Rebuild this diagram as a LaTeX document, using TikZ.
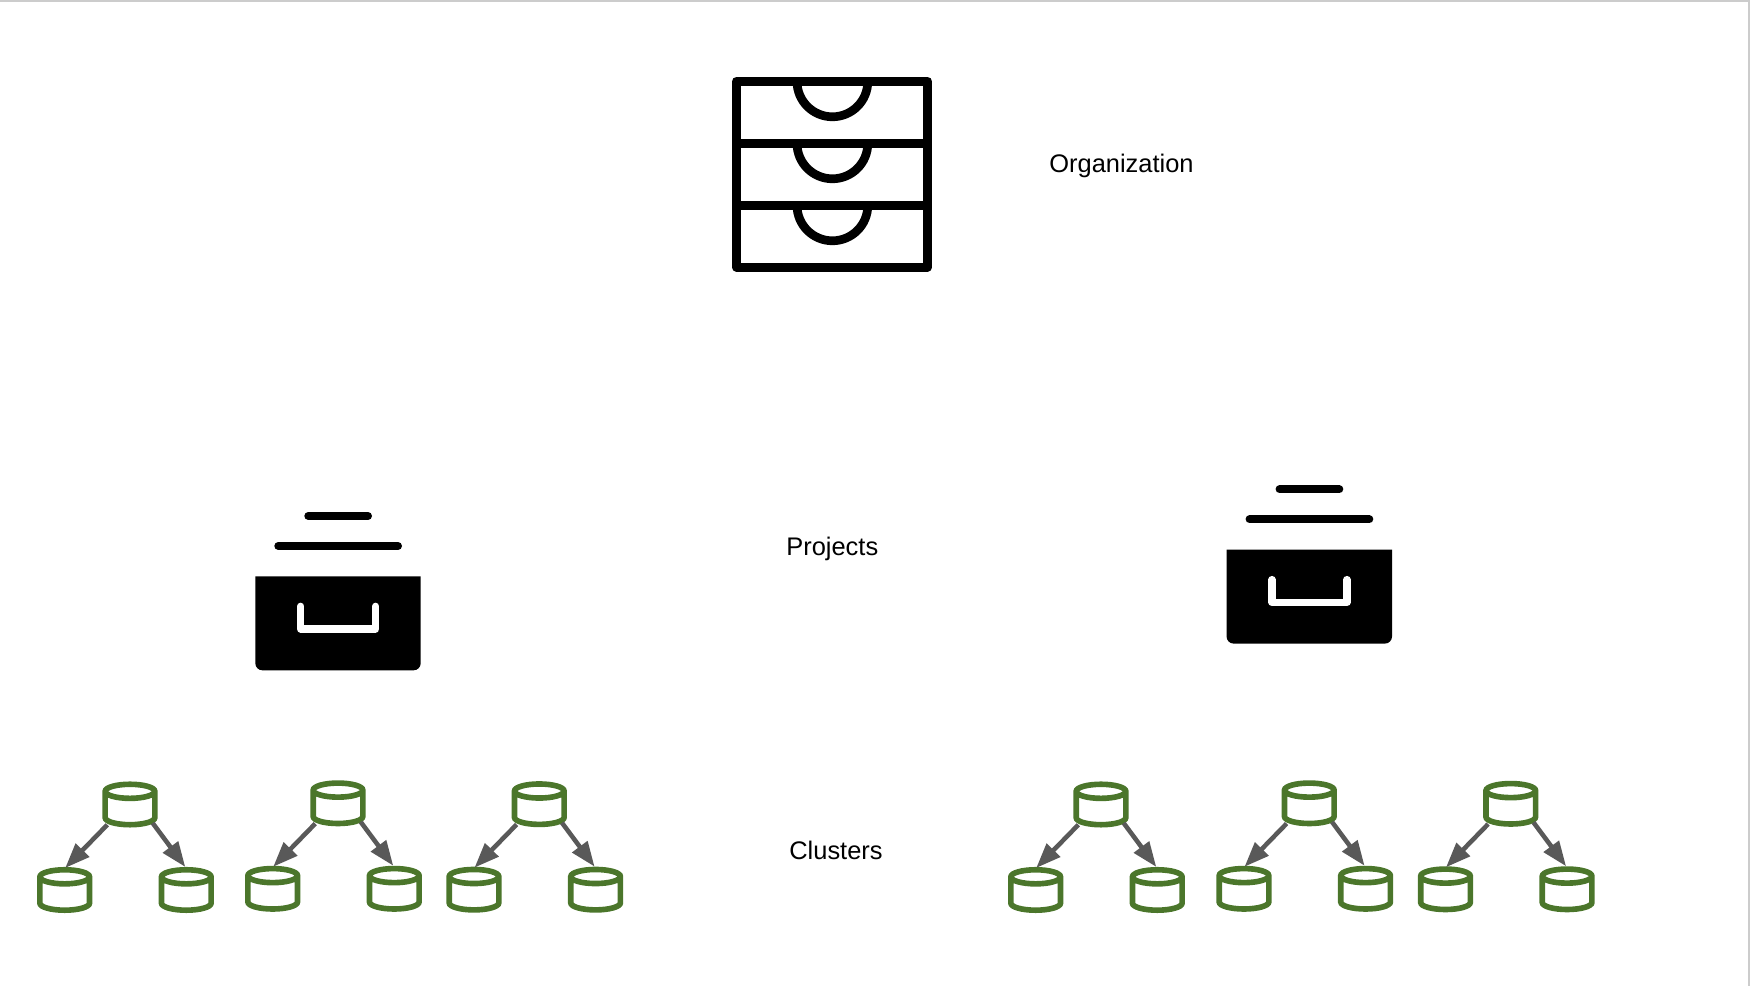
\documentclass[tikz,border=0pt]{standalone}
\usepackage{fontspec}
\setmainfont{Liberation Sans}
\usetikzlibrary{arrows.meta,shapes.geometric}
\definecolor{clustergreen}{HTML}{4B762B}
\definecolor{linkgray}{HTML}{595959}
\definecolor{framegray}{HTML}{CCCCCC}
\tikzset{
	iconline/.style={line width=2.47pt, line join=round},
	barline/.style={line width=2.28pt, line cap=round},
	handleline/.style={white, line width=2.07pt, line cap=round, line join=round},
	clusterdb/.style={cylinder, shape border rotate=90, aspect=2, draw=clustergreen, line width=1.6pt,
		minimum width=0.496cm, minimum height=0.404cm, inner sep=1pt, outer sep=0pt, anchor=shape center},
	linkarrow/.style={->, linkgray, line width=1.3pt},
	levellabel/.style={anchor=base, inner sep=0pt, font=\fontsize{7.23pt}{9pt}\selectfont}
}
\begin{document}
\begin{tikzpicture}[x=0.01cm, y=-0.01cm, >={Triangle[length=7.1pt, width=5.2pt]}]
	\useasboundingbox (0,0) rectangle (1750,986);
	% Frame edges of the page
	\fill[framegray] (0,0) rectangle (1750,2);
	\fill[framegray] (1748,0) rectangle (1750,986);
	
	% Cabinet with three drawers
	\draw[iconline] (736.4,81.4) rectangle (927.6,267.25);
	\draw[iconline] (736.4,143.4) -- (927.6,143.4);
	\draw[iconline] (736.4,205.4) -- (927.6,205.4);
	\foreach \y in {81.4,143.4,205.4}
		\draw[iconline] (797,\y) arc[start angle=180, end angle=360, x radius=35.4, y radius=-35.4];
	
	% Archive boxes
	\foreach \dx/\dy in {0/0, 971.3/-26.7}{
		\begin{scope}[shift={(\dx,\dy)}]
			\draw[barline] (308.3,516) -- (368,516);
			\draw[barline] (278.3,546) -- (398,546);
			\fill (255.3,576.4) -- (420.7,576.4) [rounded corners=2pt] -- (420.7,670.3) -- (255.3,670.3) [sharp corners] -- cycle;
			\draw[handleline] (300.7,606.3) -- (300.7,629) -- (375.6,629) -- (375.6,606.3);
		\end{scope}
	}
	
	% Clusters
	\foreach \x/\y [count=\i] in {130/804.5, 338/803.3, 539.3/804.2, 1101/804.5, 1309.3/803.3, 1510.8/803.8}{
		\node[clusterdb] (top\i) at (\x,\y) {};
		\node[clusterdb] (left\i) at (\x-65.3,\y+85.5) {};
		\node[clusterdb] (right\i) at (\x+56.3,\y+85.5) {};
		\draw[linkarrow] ([shift={(-22.7,20.3)}]top\i.shape center) -- ([shift={(0.5,-22)}]left\i.shape center);
		\draw[linkarrow] ([shift={(22.7,18.6)}]top\i.shape center) -- ([shift={(-1,-23)}]right\i.shape center);
	}
	
	% Level names
	\node[levellabel] (organization) at (1121.5,173) {Organization};
	\node[levellabel] (projects) at (832.3,555.8) {Projects};
	\node[levellabel] (clusters) at (836,860) {Clusters};
\end{tikzpicture}
\end{document}
